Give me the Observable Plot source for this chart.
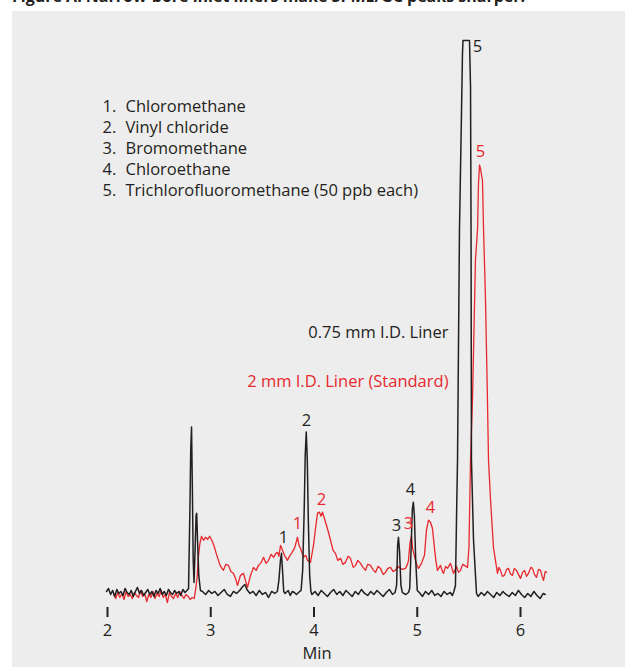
<!DOCTYPE html>
<html><head><meta charset="utf-8">
<script src="https://cdn.jsdelivr.net/npm/d3@7"></script>
<script src="https://cdn.jsdelivr.net/npm/@observablehq/plot@0.6"></script>
<style>
html,body{margin:0;padding:0;background:#fff;width:625px;height:667px;overflow:hidden;}
#title{position:absolute;left:12px;top:-12px;font:bold 16px "Open Sans",sans-serif;color:#231f20;white-space:nowrap;line-height:16px}
#panel{position:absolute;left:12px;top:11px;width:613px;height:656px;background:#ededed;}
#panel svg{background:#ededed;}
</style></head><body>
<div id="title">Figure A: Narrow-bore inlet liners make SPME/GC peaks sharper.</div>
<div id="panel"></div>
<script>
// retention time (min), detector signal (arbitrary units)
const narrowLiner = [
[1.99,9],[2.01,12],[2.03,6],[2.05,10],[2.07,4],[2.09,11],[2.11,7],[2.13,9],[2.15,5],[2.17,12],[2.19,8],[2.21,6],[2.23,10],[2.25,4],[2.27,9],[2.29,13],[2.31,7],[2.33,10],[2.35,5],[2.37,8],[2.39,11],[2.41,6],[2.43,9],[2.45,4],[2.47,10],[2.49,7],[2.51,12],[2.53,6],[2.55,9],[2.57,5],[2.59,11],[2.61,8],[2.63,6],[2.65,10],[2.67,7],[2.69,9],[2.71,5],[2.73,11],[2.75,8],[2.77,10],
[2.785,12],[2.798,90],[2.806,150],[2.814,173],[2.822,110],[2.830,40],[2.838,18],[2.848,50],[2.858,85],[2.864,87],[2.872,60],[2.884,25],[2.90,10],
[2.92,9],[2.95,6],[2.98,10],[3.01,7],[3.04,9],[3.07,5],[3.10,8],[3.13,11],[3.16,6],[3.19,4],[3.22,9],[3.25,7],[3.28,10],[3.31,14],[3.33,16],[3.35,11],[3.38,7],[3.41,9],[3.44,5],[3.47,10],[3.50,6],[3.53,8],[3.56,3],[3.59,9],[3.62,7],[3.645,9],
[3.66,20],[3.675,40],[3.685,47],[3.695,30],[3.707,9],
[3.72,7],[3.75,10],[3.77,5],[3.79,9],[3.81,8],[3.83,6],[3.85,8],[3.875,10],
[3.89,30],[3.905,90],[3.915,145],[3.925,168],[3.935,140],[3.945,80],[3.958,25],[3.97,9],
[3.98,6],[4.01,9],[4.04,5],[4.07,10],[4.10,7],[4.13,4],[4.16,8],[4.19,11],[4.22,6],[4.25,9],[4.28,5],[4.31,10],[4.34,7],[4.37,4],[4.40,9],[4.43,6],[4.46,11],[4.49,7],[4.52,5],[4.55,9],[4.58,6],[4.61,10],[4.64,7],[4.67,4],[4.70,8],[4.73,11],[4.76,6],[4.785,8],
[4.800,15],[4.810,55],[4.818,63],[4.828,50],[4.842,15],[4.855,8],
[4.87,7],[4.89,6],[4.915,8],[4.927,12],
[4.940,50],[4.952,90],[4.962,98],[4.972,85],[4.985,40],[5.0,10],
[5.02,8],[5.05,4],[5.08,9],[5.11,6],[5.14,10],[5.17,5],[5.20,7],[5.23,4],[5.26,9],[5.29,6],[5.32,8],[5.34,5],[5.355,9],
[5.370,15],[5.380,80],[5.390,140],[5.409,370],[5.428,483],[5.438,545],[5.443,558],[5.506,558],[5.516,512],[5.521,370],[5.525,140],[5.545,60],[5.574,7],
[5.59,4],[5.62,8],[5.65,5],[5.68,9],[5.71,6],[5.74,3],[5.77,8],[5.80,5],[5.83,9],[5.86,6],[5.89,4],[5.92,8],[5.95,5],[5.98,10],[6.01,6],[6.04,3],[6.07,7],[6.10,4],[6.13,9],[6.16,5],[6.19,2],[6.22,7],[6.24,6]
];
const standardLiner = [
[2.06,6],[2.08,2],[2.10,8],[2.12,3],[2.14,7],[2.16,1],[2.18,9],[2.20,4],[2.22,6],[2.24,2],[2.26,8],[2.28,5],[2.30,3],[2.32,10],[2.34,4],[2.36,7],[2.38,-1],[2.40,6],[2.42,3],[2.44,9],[2.46,2],[2.48,7],[2.50,4],[2.52,10],[2.54,3],[2.56,6],[2.58,-2],[2.60,8],[2.62,4],[2.64,2],[2.66,7],[2.68,3],[2.70,9],[2.72,5],[2.74,2],[2.76,6],[2.78,4],[2.80,1],[2.82,3],
[2.84,2],[2.855,12],[2.868,23],[2.88,43],[2.895,57],[2.91,64],[2.93,60],[2.95,63],[2.97,61],[2.99,64],[3.01,60],[3.03,55],[3.05,48],[3.065,43],
[3.09,35],[3.123,30],[3.145,36],[3.172,35],[3.195,29],[3.22,27],[3.24,22],[3.259,15],[3.288,25],[3.317,27],[3.336,20],[3.356,13],[3.385,25],[3.414,33],[3.44,30],[3.462,35],[3.49,38],[3.511,43],[3.535,37],[3.56,40],[3.585,46],[3.608,43],[3.63,47],[3.647,48],[3.66,44],[3.676,55],[3.695,50],[3.714,45],[3.743,40],[3.762,44],[3.782,47],[3.811,52],[3.825,57],[3.84,63],[3.855,55],[3.869,52],[3.898,43],[3.92,45],[3.937,40],[3.966,38],
[3.995,55],[4.015,72],[4.034,87],[4.053,88],[4.068,84],[4.082,88],[4.10,82],[4.121,75],[4.14,68],[4.16,60],
[4.185,50],[4.208,47],[4.23,40],[4.257,42],[4.28,36],[4.305,38],[4.33,44],[4.353,42],[4.38,33],[4.402,35],[4.425,40],[4.45,37],[4.475,33],[4.499,30],[4.52,36],[4.547,35],[4.57,31],[4.596,28],[4.62,34],[4.644,32],[4.67,26],[4.692,28],[4.715,32],[4.741,33],[4.765,29],[4.789,30],[4.81,34],[4.838,32],[4.86,31],[4.886,32],[4.905,36],
[4.915,40],[4.930,58],[4.944,64],[4.955,52],[4.964,48],[4.983,40],[5.0,35],[5.012,32],[5.041,37],[5.07,45],[5.089,70],[5.109,80],[5.128,78],[5.147,72],[5.167,52],[5.18,40],[5.196,30],[5.225,35],[5.24,30],[5.254,27],[5.275,34],[5.293,32],[5.322,37],[5.351,27],[5.38,34],[5.40,28],[5.419,30],[5.44,36],[5.457,35],[5.487,33],
[5.501,53],[5.516,140],[5.535,200],[5.564,340],[5.584,370],[5.593,415],[5.603,434],[5.613,430],[5.632,418],[5.642,370],[5.661,300],[5.680,200],[5.690,140],[5.71,100],[5.738,53],[5.777,27],
[5.79,33],[5.806,30],[5.825,24],[5.845,25],[5.865,31],[5.884,32],[5.90,27],[5.922,25],[5.94,32],[5.961,30],[5.98,26],[6.0,22],[6.02,28],[6.039,30],[6.058,24],[6.077,27],[6.10,33],[6.116,32],[6.135,26],[6.155,23],[6.175,31],[6.194,30],[6.21,24],[6.223,20],[6.24,29],[6.252,28]
];
const minuteTicks = [2, 3, 4, 5, 6];
const compounds = ["Chloromethane", "Vinyl chloride", "Bromomethane", "Chloroethane", "Trichlorofluoromethane (50 ppb each)"];
const peakNumbers = ["1", "2", "3", "4", "5"];
// label anchor (time, signal) for each numbered peak
const narrowPeakTimes = [3.705, 3.927, 4.799, 4.935, 5.584];
const narrowPeakHeights = [63, 179, 75, 110, 552];
const standardPeakTimes = [3.84, 4.073, 4.915, 5.128, 5.613];
const standardPeakHeights = [77, 100, 77, 92, 447];
const seriesNames = ["0.75 mm I.D. Liner", "2 mm I.D. Liner (Standard)"];

const BLACK = "#231f20", RED = "#e8282d";
const toRows = arr => arr.map(([t, s]) => ({t, s}));
const narrowRows = toRows(narrowLiner);
const standardRows = toRows(standardLiner);
const narrowLabels = peakNumbers.map((n, i) => ({n, t: narrowPeakTimes[i], s: narrowPeakHeights[i]}));
const standardLabels = peakNumbers.map((n, i) => ({n, t: standardPeakTimes[i], s: standardPeakHeights[i]}));
const FONT = "Open Sans";

const chart = Plot.plot({
  width: 613, height: 656,
  marginLeft: 95, marginRight: 105, marginTop: 29, marginBottom: 67,
  style: {background: "#ededed", fontFamily: FONT, color: BLACK},
  x: {domain: [2, 6]},
  y: {domain: [0, 558], axis: null},
  marks: [
    Plot.line(standardRows, {x: "t", y: "s", stroke: RED, strokeWidth: 1.3}),
    Plot.line(narrowRows, {x: "t", y: "s", stroke: BLACK, strokeWidth: 1.5}),
    Plot.axisX({ticks: minuteTicks, tickFormat: d => String(d), tickSize: 10, tickPadding: 7, dy: 7, fontSize: 16.5, strokeWidth: 2, label: null, stroke: BLACK, fill: BLACK}),
    Plot.text(["Min"], {text: d => d, frameAnchor: "bottom", dx: 3, dy: 53, lineAnchor: "middle", fontSize: 16.5, fill: BLACK}),
    Plot.text(narrowLabels, {x: "t", y: "s", text: "n", fontSize: 16.5, fill: BLACK, lineAnchor: "middle"}),
    Plot.text(standardLabels, {x: "t", y: "s", text: "n", fontSize: 16.5, fill: RED, lineAnchor: "middle"}),
    Plot.text([peakNumbers.map(n => n + ".").join("\n")], {text: d => d, frameAnchor: "top-left", dx: -5, dy: 57, lineAnchor: "top", textAnchor: "start", fontSize: 16.5, lineHeight: 1.27, fill: BLACK}),
    Plot.text([compounds.join("\n")], {text: d => d, frameAnchor: "top-left", dx: 18, dy: 57, lineAnchor: "top", textAnchor: "start", fontSize: 16.5, lineHeight: 1.27, fill: BLACK}),
    Plot.text([seriesNames[0]], {text: d => d, frameAnchor: "top-left", dx: 341, dy: 292, lineAnchor: "middle", textAnchor: "end", fontSize: 16.5, fill: BLACK}),
    Plot.text([seriesNames[1]], {text: d => d, frameAnchor: "top-left", dx: 341, dy: 341, lineAnchor: "middle", textAnchor: "end", fontSize: 16.5, fill: RED})
  ]
});
document.getElementById("panel").appendChild(chart);
</script>
</body></html>
